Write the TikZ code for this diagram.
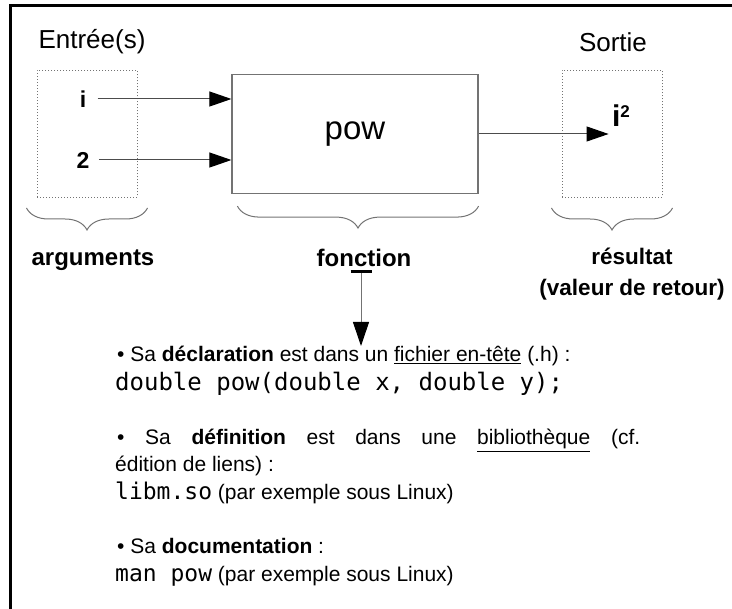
\documentclass[tikz,border=0pt]{standalone}
\usepackage{fontspec}
\setmainfont{Liberation Sans}
\setmonofont{DejaVu Sans Mono}
\usetikzlibrary{arrows.meta,decorations.pathreplacing,positioning}
\tikzset{
  dotbox/.style={draw=black!55, dotted, line width=1pt, minimum width=100pt, minimum height=127pt},
  fnbox/.style={draw=black!55, line width=1.2pt, minimum width=246pt, minimum height=119pt, font=\fontsize{33}{36}\selectfont},
  arr/.style={draw=black!70, line width=1pt, -{Triangle[length=22pt,width=15pt,color=black]}},
  darr/.style={draw=black!55, line width=1pt, {Bar[width=21pt,color=black,line width=2.5pt]}-{Triangle[length=24pt,width=16pt,color=black]}},
  brc/.style={draw=black!55, line width=1pt, decorate, decoration={brace,amplitude=22pt,mirror}},
  head/.style={font=\fontsize{26}{30}\selectfont},
  lbl/.style={font=\bfseries\fontsize{24}{28}\selectfont},
  txt/.style={anchor=base west, inner sep=0pt, font=\fontsize{21}{25}\selectfont},
  code/.style={font=\ttfamily\fontsize{24}{28}\selectfont}
}
\begin{document}
\begin{tikzpicture}[x=1pt,y=-1pt]
  \useasboundingbox (0,0) rectangle (732,609);
  % frame
  \draw[line width=3pt] (10.5,609) -- (10.5,5.5) -- (732,5.5);
  % inputs
  \node[head] (inhead) at (92,42) {Entrée(s)};
  \node[dotbox] (inbox) at (87,134) {};
  \node[lbl, font=\bfseries\fontsize{23}{26}\selectfont] (argi) at (83,99) {i};
  \node[lbl, font=\bfseries\fontsize{23}{26}\selectfont] (argii) at (83,160) {2};
  % function
  \node[fnbox] (pow) at (355,134) {pow};
  \draw[arr] ([xshift=8pt]argi.east) -- (argi -| pow.west);
  \draw[arr] ([xshift=6pt]argii.east) -- (argii -| pow.west);
  % output
  \node[head] (outhead) at (613,42) {Sortie};
  \node[dotbox] (outbox) at (612,134) {};
  \node[lbl, font=\bfseries\fontsize{30}{32}\selectfont] (res) at (621,116) {i\raisebox{9pt}{\fontsize{17}{18}\selectfont 2}};
  \draw[arr] (pow.east) -- (pow.east -| res.west);
  % braces
  \draw[brc] ([shift={(-10,10)}]inbox.south west) -- ([shift={(10,10)}]inbox.south east);
  \draw[brc] ([shift={(6,12)}]pow.south west) -- ([shift={(0,12)}]pow.south east);
  \draw[brc] ([shift={(-10,10)}]outbox.south west) -- ([shift={(10,10)}]outbox.south east);
  \node[lbl] (args) at (93,260) {arguments};
  \node[lbl] (fonc) at (364,258) {fonction};
  \node[lbl, font=\bfseries\fontsize{22.5}{31}\selectfont, align=center] (retour) at (632,274) {résultat\\(valeur de retour)};
  % notes
  \coordinate (dtip) at (361,346);
  \draw[darr] ([xshift=-3pt]fonc.south) -- (dtip);
  \node[txt] (decl) at (117,362) {• Sa \textbf{déclaration} est dans un \underline{fichier en-tête} (.h) :};
  \node[txt, code] (proto) at (115,391) {double pow(double x, double y);};
  \node[txt] (defi) at (117,445) {\makebox[523pt][s]{• Sa \textbf{définition} est dans une \underline{bibliothèque} (cf.}};
  \node[txt] (defii) at (115,472) {édition de liens) :};
  \node[txt] (lib) at (115,500) {\texttt{\fontsize{23}{28}\selectfont libm.so} (par exemple sous Linux)};
  \node[txt] (docu) at (117,554) {• Sa \textbf{documentation} :};
  \node[txt] (man) at (115,582) {\texttt{\fontsize{23}{28}\selectfont man pow} (par exemple sous Linux)};
\end{tikzpicture}
\end{document}
